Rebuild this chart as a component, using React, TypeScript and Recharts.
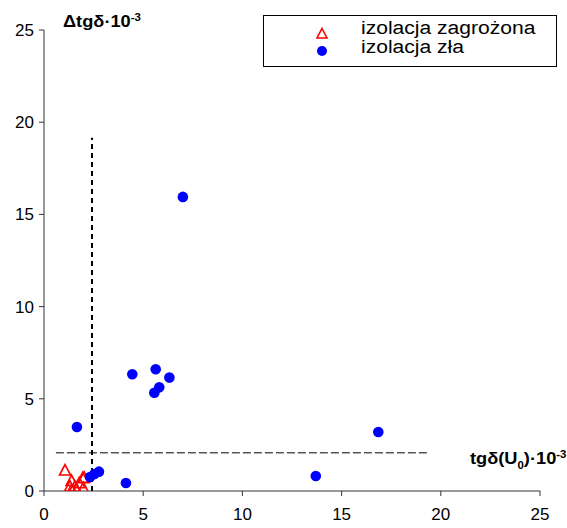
import React from "react";
import {
  ScatterChart,
  Scatter,
  XAxis,
  YAxis,
  ReferenceLine,
} from "recharts";

const axisTicks = [0, 5, 10, 15, 20, 25];

// izolacja zagrożona (red triangles)
const zagrozonaX = [1.06, 1.39, 1.95, 1.31, 1.56, 1.98, 1.39, 1.65, 1.78, 2.02];
const zagrozonaY = [1.11, 0.54, 0.69, 0.23, 0.23, 0.15, 0.05, 0.05, 0.42, 0.72];

// izolacja zła (blue dots)
const zlaX = [7.0, 4.45, 5.63, 6.32, 5.81, 5.56, 1.66, 16.85, 13.7, 4.13, 2.32, 2.54, 2.77];
const zlaY = [15.95, 6.33, 6.6, 6.15, 5.62, 5.33, 3.47, 3.2, 0.81, 0.43, 0.76, 0.92, 1.05];

const thresholdX = 2.42;
const thresholdY = 2.07;

const zagrozona = zagrozonaX.map((x, i) => ({ x, y: zagrozonaY[i] }));
const zla = zlaX.map((x, i) => ({ x, y: zlaY[i] }));

const font = "'Liberation Sans', Arial, sans-serif";

const Triangle = (props: any) => {
  const { cx, cy } = props;
  if (cx == null || cy == null) return null;
  return (
    <path
      d={`M${cx},${cy - 6} L${cx + 5.5},${cy + 4.5} L${cx - 5.5},${cy + 4.5} Z`}
      fill="none"
      stroke="#ff0000"
      strokeWidth={1.6}
    />
  );
};

const Dot = (props: any) => {
  const { cx, cy } = props;
  if (cx == null || cy == null) return null;
  return <circle cx={cx} cy={cy} r={5.3} fill="#0000ff" />;
};

const stretched = {
  display: "inline-block",
  transform: "scaleX(1.14)",
  transformOrigin: "left top",
} as const;

export default function App() {
  return (
    <div
      style={{
        position: "absolute",
        left: 0,
        top: 0,
        width: 567,
        height: 528,
        background: "#fff",
        fontFamily: font,
      }}
    >
      <ScatterChart
        width={567}
        height={528}
        margin={{ top: 30, right: 27, left: 0, bottom: 0 }}
        style={{ fontFamily: font }}
      >
        <XAxis
          type="number"
          dataKey="x"
          domain={[0, 25]}
          ticks={axisTicks}
          height={37}
          stroke="#333"
          tickSize={5}
          tickMargin={12}
          tick={{ fill: "#000", fontSize: 17, fontFamily: font }}
          allowDataOverflow
        />
        <YAxis
          type="number"
          dataKey="y"
          domain={[0, 25]}
          ticks={axisTicks}
          width={44}
          stroke="#333"
          tickSize={5}
          tickMargin={5}
          tick={{ fill: "#000", fontSize: 17, fontFamily: font }}
          allowDataOverflow
        />
        <ReferenceLine
          segment={[
            { x: thresholdX, y: 0 },
            { x: thresholdX, y: 19.15 },
          ]}
          stroke="#000"
          strokeWidth={2}
          strokeDasharray="5 4"
        />
        <ReferenceLine
          segment={[
            { x: 0.6, y: thresholdY },
            { x: 19.35, y: thresholdY },
          ]}
          stroke="#000"
          strokeWidth={1}
          strokeDasharray="8 3"
        />
        <Scatter
          name="izolacja zagrożona"
          data={zagrozona}
          shape={Triangle}
          isAnimationActive={false}
        />
        <Scatter
          name="izolacja zła"
          data={zla}
          shape={Dot}
          isAnimationActive={false}
        />
      </ScatterChart>

      <div
        style={{
          position: "absolute",
          left: 63,
          top: 12,
          fontSize: 16,
          fontWeight: "bold",
          whiteSpace: "nowrap",
        }}
      >
        <span style={stretched}>
          Δtgδ·10<sup style={{ fontSize: 10 }}>-3</sup>
        </span>
      </div>
      <div
        style={{
          position: "absolute",
          left: 470,
          top: 449,
          fontSize: 16,
          fontWeight: "bold",
          whiteSpace: "nowrap",
        }}
      >
        <span style={stretched}>
          tgδ(U<sub style={{ fontSize: 10 }}>0</sub>)·10
          <sup style={{ fontSize: 10 }}>-3</sup>
        </span>
      </div>

      <div
        style={{
          position: "absolute",
          left: 263,
          top: 15,
          width: 292,
          height: 50,
          border: "1px solid #000",
          background: "#fff",
        }}
      >
        <svg
          width={20}
          height={40}
          style={{ position: "absolute", left: 48, top: 8 }}
        >
          <path d="M10,4.5 L15,14 L5,14 Z" fill="none" stroke="#ff0000" strokeWidth={1.6} />
          <circle cx={10} cy={27} r={5} fill="#0000ff" />
        </svg>
        <div
          style={{
            position: "absolute",
            left: 97,
            top: 3,
            fontSize: 18,
            lineHeight: "19px",
            whiteSpace: "nowrap",
            transform: "scaleX(1.17)",
            transformOrigin: "left top",
          }}
        >
          <div>izolacja zagrożona</div>
          <div>izolacja zła</div>
        </div>
      </div>
    </div>
  );
}
